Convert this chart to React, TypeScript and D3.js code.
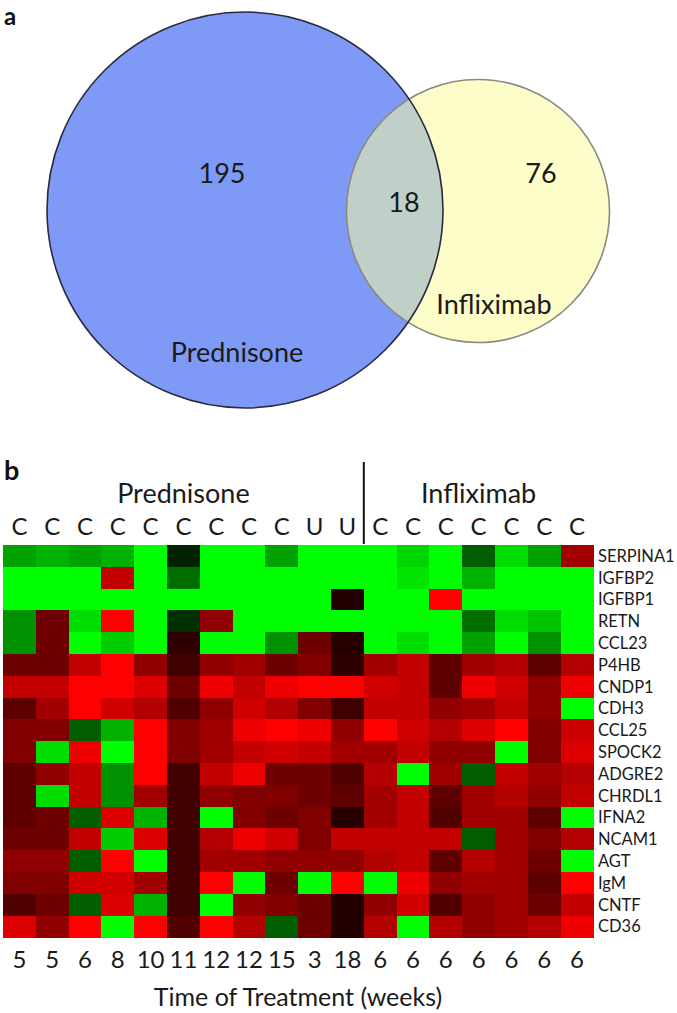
import React from 'react';
import * as d3 from 'd3';

// ---------- Data ----------
const vennSets = ['Prednisone', 'Infliximab'];
const vennOnly = [195, 76];
const vennShared = 18;

const genes = ['SERPINA1', 'IGFBP2', 'IGFBP1', 'RETN', 'CCL23', 'P4HB', 'CNDP1', 'CDH3', 'CCL25', 'SPOCK2', 'ADGRE2', 'CHRDL1', 'IFNA2', 'NCAM1', 'AGT', 'IgM', 'CNTF', 'CD36'];
const responseLabels = ['C', 'C', 'C', 'C', 'C', 'C', 'C', 'C', 'C', 'U', 'U', 'C', 'C', 'C', 'C', 'C', 'C', 'C'];
const weeks = ['5', '5', '6', '8', '10', '11', '12', '12', '15', '3', '18', '6', '6', '6', '6', '6', '6', '6'];
const groupNames = ['Prednisone', 'Infliximab'];
const groupSizes = [11, 7];

const values: number[][] = [
  [-1.9, -2.1, -1.9, -2.1, -3, -0.4, -3, -3, -1.9, -3, -3, -3, -2.5, -3, -1.1, -2.6, -1.9, 1.9],
  [-3, -3, -3, 2.3, -3, -1.3, -3, -3, -3, -3, -3, -3, -2.7, -3, -2.1, -3, -3, -3],
  [-3, -3, -3, -3, -3, -3, -3, -3, -3, -3, 0.4, -3, -3, 3, -3, -3, -3, -3],
  [-1.7, 1.3, -2.6, 3, -3, -0.55, 1.7, -3, -3, -3, -3, -3, -3, -3, -1.3, -2.6, -2.3, -3],
  [-1.7, 1.3, -3, -2.4, -3, 0.55, -3, -3, -1.7, 1.3, 0.45, -3, -2.6, -3, -1.9, -3, -1.7, -3],
  [1.3, 1.3, 2.3, 3, 1.7, 0.75, 1.7, 1.9, 1.3, 1.5, 0.55, 1.9, 2.3, 1.1, 1.9, 2.1, 1.1, 2.1],
  [2.3, 2.3, 3, 3, 2.6, 1.3, 2.8, 2.3, 2.8, 3, 3, 2.45, 2.3, 1.1, 2.8, 2.45, 1.7, 2.8],
  [1.1, 1.9, 3, 2.45, 2.1, 0.95, 1.7, 2.45, 2.1, 1.5, 0.75, 2.3, 2.3, 1.7, 1.9, 2.3, 1.7, -3],
  [1.5, 1.5, -1.1, -2.1, 3, 1.5, 1.9, 2.8, 3, 2.8, 1.7, 3, 2.45, 2.1, 2.6, 3, 1.5, 2.4],
  [1.5, -2.6, 2.8, -3, 3, 1.5, 1.9, 2.3, 2.45, 2.3, 1.9, 1.9, 2.3, 1.7, 1.7, -3, 1.5, 2.6],
  [1.1, 1.7, 2.3, -1.7, 3, 0.75, 2.3, 2.8, 1.3, 1.3, 0.95, 2.1, -3, 1.9, -1.1, 2.3, 1.9, 2.1],
  [1.1, -2.6, 2.3, -1.7, 1.9, 0.75, 1.7, 1.5, 1.5, 1.3, 1.1, 1.9, 2.3, 1.1, 1.9, 2.1, 1.7, 2.3],
  [1.1, 1.3, -1.1, 2.6, -2.1, 0.75, -3, 1.5, 1.3, 1.5, 0.45, 1.9, 2.3, 0.95, 1.9, 1.9, 1.1, -3],
  [1.3, 1.3, 2.3, -2.4, 2.6, 0.75, 2.1, 2.8, 2.45, 1.5, 2.3, 2.3, 2.3, 2.3, -1.1, 1.9, 1.5, 2.1],
  [1.7, 1.7, -1.1, 3, -3, 0.75, 1.9, 1.9, 1.7, 1.7, 1.7, 2.1, 2.3, 1.1, 2.1, 1.9, 1.3, -3],
  [1.5, 1.5, 2.45, 2.45, 1.9, 0.75, 3, -3, 1.3, -3, 3, -3, 2.8, 1.7, 1.9, 1.9, 1.1, 3],
  [0.95, 1.3, -1.1, 2.6, -2.1, 0.75, -3, 1.7, 1.5, 1.3, 0.4, 1.7, 2.45, 0.95, 1.7, 1.9, 1.3, 2.3],
  [2.6, 1.7, 3, -3, 3, 0.95, 3, 2.1, -1.1, 1.3, 0.4, 2.1, -3, 2.1, 1.7, 1.9, 2.1, 2.8],
];

const FONT = "Lato, 'Open Sans', 'DejaVu Sans', sans-serif";

export default function App() {
  const W = 677;
  const H = 1013;

  // Venn (area-proportional circles)
  const totals = [vennOnly[0] + vennShared, vennOnly[1] + vennShared];
  const rScale = d3.scaleSqrt().domain([0, totals[0]]).range([0, 198]);
  const r1 = rScale(totals[0]);
  const r2 = rScale(totals[1]);
  const c1 = { x: 245, y: 210 };
  const c2 = { x: 478, y: 211 };

  // Heatmap
  const cols = d3.range(weeks.length);
  const x = d3.scaleBand<number>().domain(cols).range([3, 593.4]).paddingInner(0);
  const y = d3.scaleBand<string>().domain(genes).range([545, 937.4]).paddingInner(0);
  const color = d3
    .scaleLinear<string>()
    .domain([-3, 0, 3])
    .range(['#00ff00', '#000000', '#ff0000'])
    .clamp(true);

  const groupStarts = groupSizes.map((_, i) => d3.sum(groupSizes.slice(0, i)));
  const dividerX = x(groupSizes[0]) as number;

  return (
    <svg
      width={W}
      height={H}
      style={{ position: 'absolute', left: 0, top: 0, background: '#fff' }}
      fontFamily={FONT}
    >
      <rect x={0} y={0} width={W} height={H} fill="#fff" />
      {/* Panel a */}
      <text x={4} y={25} fontSize={24} fontWeight="bold" fill="#111">a</text>
      <defs>
        <clipPath id="bigClip">
          <circle cx={c1.x} cy={c1.y} r={r1} />
        </clipPath>
      </defs>
      <circle cx={c1.x} cy={c1.y} r={r1} fill="#7f9af6" />
      <circle cx={c2.x} cy={c2.y} r={r2} fill="#fdfdc9" />
      <circle cx={c2.x} cy={c2.y} r={r2} fill="#c0d0c8" clipPath="url(#bigClip)" />
      <circle cx={c2.x} cy={c2.y} r={r2} fill="none" stroke="#8a8a80" strokeWidth={1.6} />
      <circle cx={c1.x} cy={c1.y} r={r1} fill="none" stroke="#2a2a40" strokeWidth={1.6} />
      <g fontSize={27} fill="#1a1a1a" textAnchor="middle">
        <text x={222} y={183}>{vennOnly[0]}</text>
        <text x={404} y={212}>{vennShared}</text>
        <text x={541} y={183}>{vennOnly[1]}</text>
        <text x={494} y={314}>{vennSets[1]}</text>
        <text x={237} y={362}>{vennSets[0]}</text>
      </g>

      {/* Panel b */}
      <text x={4} y={480} fontSize={27} fontWeight="bold" fill="#111">b</text>
      {groupNames.map((g, i) => {
        const x0 = x(groupStarts[i]) as number;
        const x1 = (x(groupStarts[i] + groupSizes[i] - 1) as number) + x.bandwidth();
        return (
          <text key={g} x={(x0 + x1) / 2} y={503} fontSize={27} textAnchor="middle" fill="#1a1a1a">
            {g}
          </text>
        );
      })}
      <line x1={dividerX} x2={dividerX} y1={462} y2={544} stroke="#111" strokeWidth={2} />
      {responseLabels.map((l, i) => (
        <text key={'r' + i} x={(x(i) as number) + x.bandwidth() / 2} y={535} fontSize={24} textAnchor="middle" fill="#1a1a1a">
          {l}
        </text>
      ))}
      {values.map((row, ri) =>
        row.map((v, ci) => (
          <rect
            key={ri + '-' + ci}
            x={x(ci) as number}
            y={y(genes[ri]) as number}
            width={x.bandwidth() + 0.6}
            height={y.bandwidth() + 0.6}
            fill={color(v)}
            shapeRendering="crispEdges"
          />
        ))
      )}
      {genes.map((g) => (
        <text key={g} x={598} y={(y(g) as number) + y.bandwidth() / 2} dy="0.36em" fontSize={16.5} fill="#1a1a1a">
          {g}
        </text>
      ))}
      {weeks.map((w, i) => (
        <text key={'w' + i} x={(x(i) as number) + x.bandwidth() / 2} y={968} fontSize={24} textAnchor="middle" fill="#1a1a1a">
          {w}
        </text>
      ))}
      <text x={298} y={1006} fontSize={25} textAnchor="middle" fill="#1a1a1a">
        Time of Treatment (weeks)
      </text>
    </svg>
  );
}
